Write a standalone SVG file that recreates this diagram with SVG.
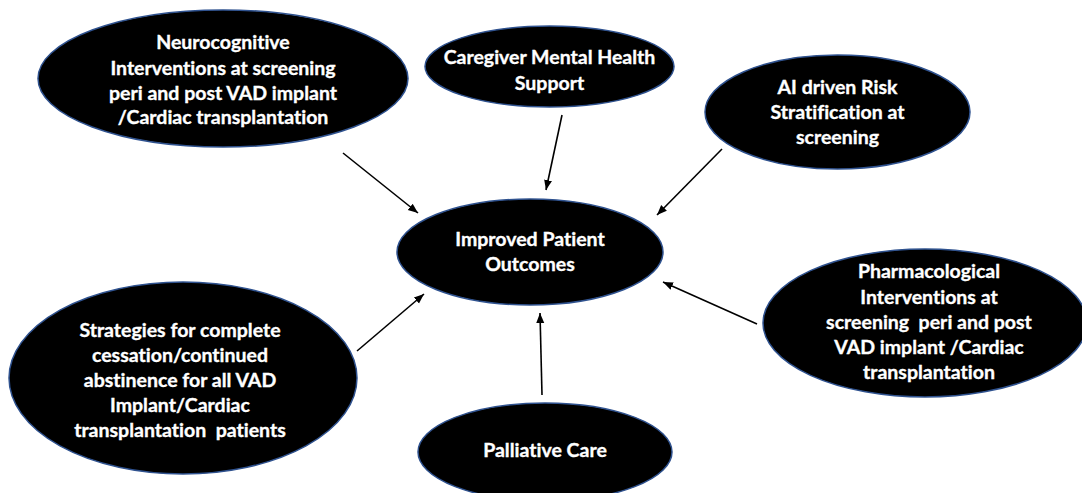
<svg xmlns="http://www.w3.org/2000/svg" width="1082" height="493" viewBox="0 0 1082 493">
  <style>
    .node { fill: #000000; stroke: #2F528F; stroke-width: 1.5; }
    .label { fill: #ffffff; stroke: #ffffff; stroke-width: 0.35; font-family: Lato, "Liberation Sans", sans-serif; font-weight: 700; font-size: 19.5px; text-anchor: middle; font-variant-ligatures: none; white-space: pre; }
    .link { stroke: #000000; stroke-width: 1.6; fill: none; marker-end: url(#arrow); }
  </style>
  <defs>
    <marker id="arrow" markerUnits="userSpaceOnUse" markerWidth="10" markerHeight="10" viewBox="0 0 10 10" refX="10" refY="5" orient="auto">
      <path d="M0,1 L10,5 L0,9 Z" fill="#000000"/>
    </marker>
  </defs>
  <rect width="1082" height="493" fill="#ffffff"/>

  <g id="connectors">
    <line class="link" x1="343" y1="153" x2="418" y2="213"/>
    <line class="link" x1="562" y1="115" x2="546" y2="190"/>
    <line class="link" x1="722" y1="149" x2="657" y2="215"/>
    <line class="link" x1="757" y1="324" x2="663" y2="282"/>
    <line class="link" x1="357" y1="351" x2="424" y2="294"/>
    <line class="link" x1="542" y1="395" x2="540" y2="313"/>
  </g>

  <g id="neurocognitive">
    <ellipse class="node" cx="223" cy="78.5" rx="185" ry="68.5"/>
    <text class="label" x="223" y="49">Neurocognitive</text>
    <text class="label" x="223" y="75">Interventions at screening</text>
    <text class="label" x="223" y="100">peri and post VAD implant</text>
    <text class="label" x="223" y="124">/Cardiac transplantation</text>
  </g>

  <g id="caregiver">
    <ellipse class="node" cx="549.5" cy="66.5" rx="124.5" ry="40.5"/>
    <text class="label" x="549.5" y="64">Caregiver Mental Health</text>
    <text class="label" x="549.5" y="90">Support</text>
  </g>

  <g id="ai-risk">
    <ellipse class="node" cx="837.5" cy="112" rx="132.5" ry="57"/>
    <text class="label" x="837.5" y="94">AI driven Risk</text>
    <text class="label" x="837.5" y="119">Stratification at</text>
    <text class="label" x="837.5" y="144">screening</text>
  </g>

  <g id="outcomes">
    <ellipse class="node" cx="530" cy="252" rx="133" ry="53"/>
    <text class="label" x="530" y="246">Improved Patient</text>
    <text class="label" x="530" y="271">Outcomes</text>
  </g>

  <g id="pharmacological">
    <ellipse class="node" cx="925" cy="323" rx="162" ry="74"/>
    <text class="label" x="929" y="278">Pharmacological</text>
    <text class="label" x="929" y="304">Interventions at</text>
    <text class="label" x="929" y="329" xml:space="preserve">screening  peri and post</text>
    <text class="label" x="929" y="354">VAD implant /Cardiac</text>
    <text class="label" x="929" y="379">transplantation</text>
  </g>

  <g id="strategies">
    <ellipse class="node" cx="183" cy="378" rx="174" ry="96"/>
    <text class="label" x="180" y="337">Strategies for complete</text>
    <text class="label" x="180" y="362">cessation/continued</text>
    <text class="label" x="180" y="387">abstinence for all VAD</text>
    <text class="label" x="180" y="412">Implant/Cardiac</text>
    <text class="label" x="180" y="437" xml:space="preserve">transplantation  patients</text>
  </g>

  <g id="palliative">
    <ellipse class="node" cx="545" cy="452" rx="127" ry="49"/>
    <text class="label" x="545" y="457">Palliative Care</text>
  </g>
</svg>
